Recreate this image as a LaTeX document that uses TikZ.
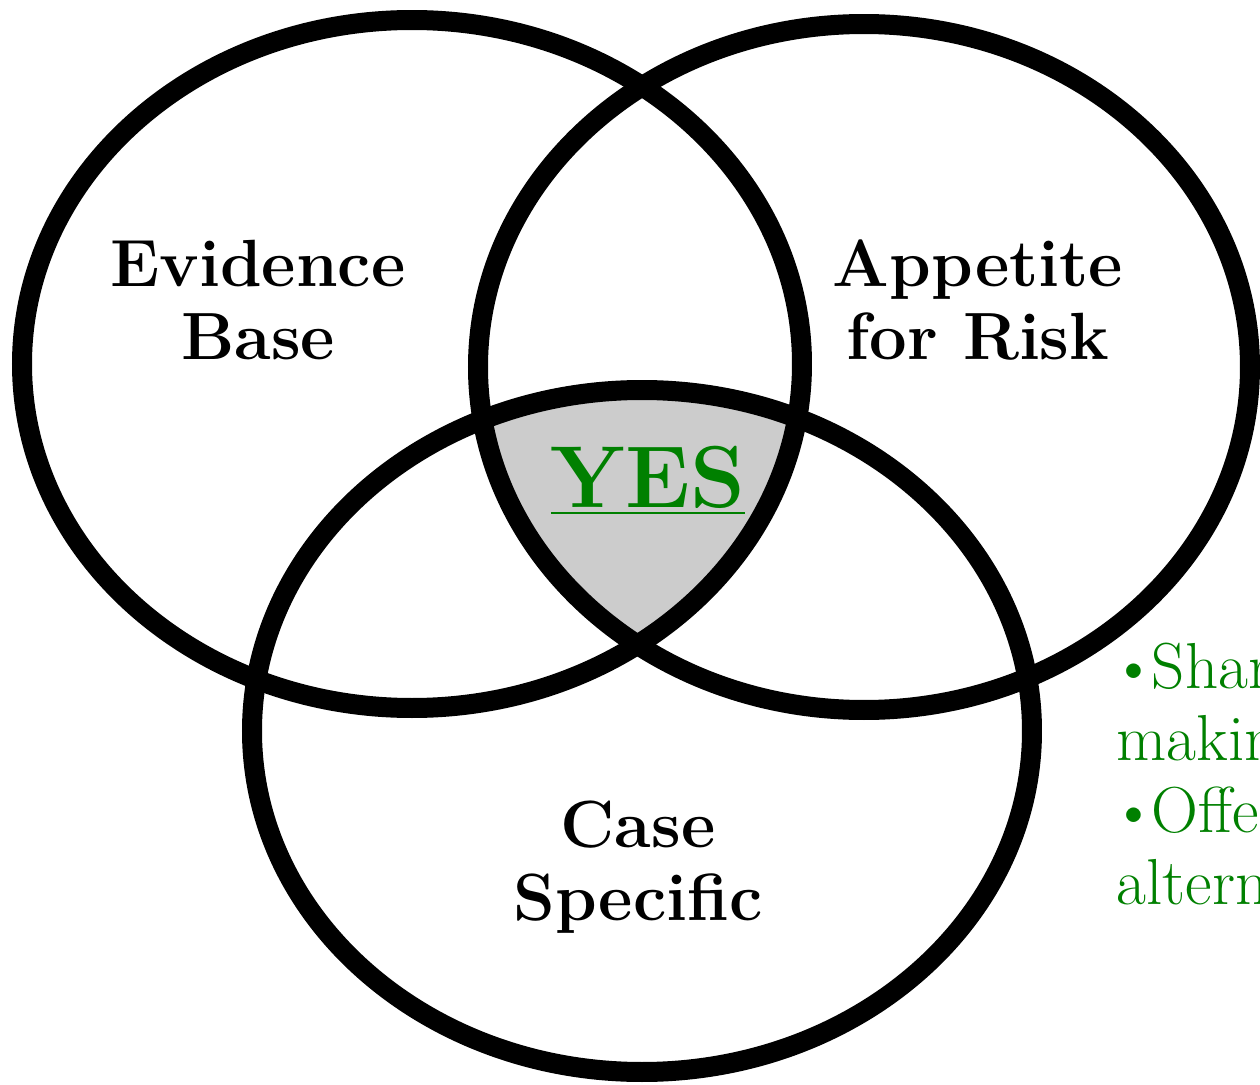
\documentclass[tikz,border=0pt]{standalone}
\usepackage{xcolor}
\usepackage{tikz}
\usetikzlibrary{positioning}

\definecolor{yesgreen}{RGB}{0,128,0}
\definecolor{yesgray}{RGB}{204,204,204}

\tikzset{
  ring/.style={draw=black, line width=0.2cm},
  label/.style={align=center, font=\fontsize{19}{20.8}\selectfont\bfseries},
  note/.style={align=left, anchor=north west, inner sep=0pt, text=yesgreen, font=\fontsize{18.5}{20.5}\selectfont}
}

\begin{document}
\begin{tikzpicture}
            \useasboundingbox (0,0) rectangle (12.6,10.84);
            \clip (0,0) rectangle (12.6,10.84);

            \coordinate (evidence) at (4.12,7.20);
            \coordinate (appetite) at (8.64,7.17);
            \coordinate (case) at (6.42,3.53);

            % shaded middle part
            \begin{scope}
                \clip (evidence) ellipse [x radius=3.9cm, y radius=3.44cm];
                \clip (appetite) ellipse [x radius=3.86cm, y radius=3.43cm];
                \fill[yesgray] (case) ellipse [x radius=3.9cm, y radius=3.41cm];
            \end{scope}

            \draw[ring] (evidence) ellipse [x radius=3.9cm, y radius=3.44cm];
            \draw[ring] (appetite) ellipse [x radius=3.86cm, y radius=3.43cm];
            \draw[ring] (case) ellipse [x radius=3.9cm, y radius=3.41cm];

            \node (evidencetext) [label] at (2.58,7.84) {Evidence\\Base};
            \node (appetitetext) [label] at (9.78,7.84) {Appetite\\for Risk};
            \node (casetext) [label] at (6.38,2.17) {Case\\Specific};
            \node (yes) [anchor=base, text=yesgreen, font=\fontsize{25}{28}\selectfont\bfseries] at (6.48,5.77) {\underline{YES}};

            \node (notes) [note] at (11.16,4.42) {\kern-0.1em\textbullet\kern-0.08em Shared\\making\\\kern-0.1em\textbullet\kern-0.08em Offer\\alternatives};
        \end{tikzpicture}
\end{document}
